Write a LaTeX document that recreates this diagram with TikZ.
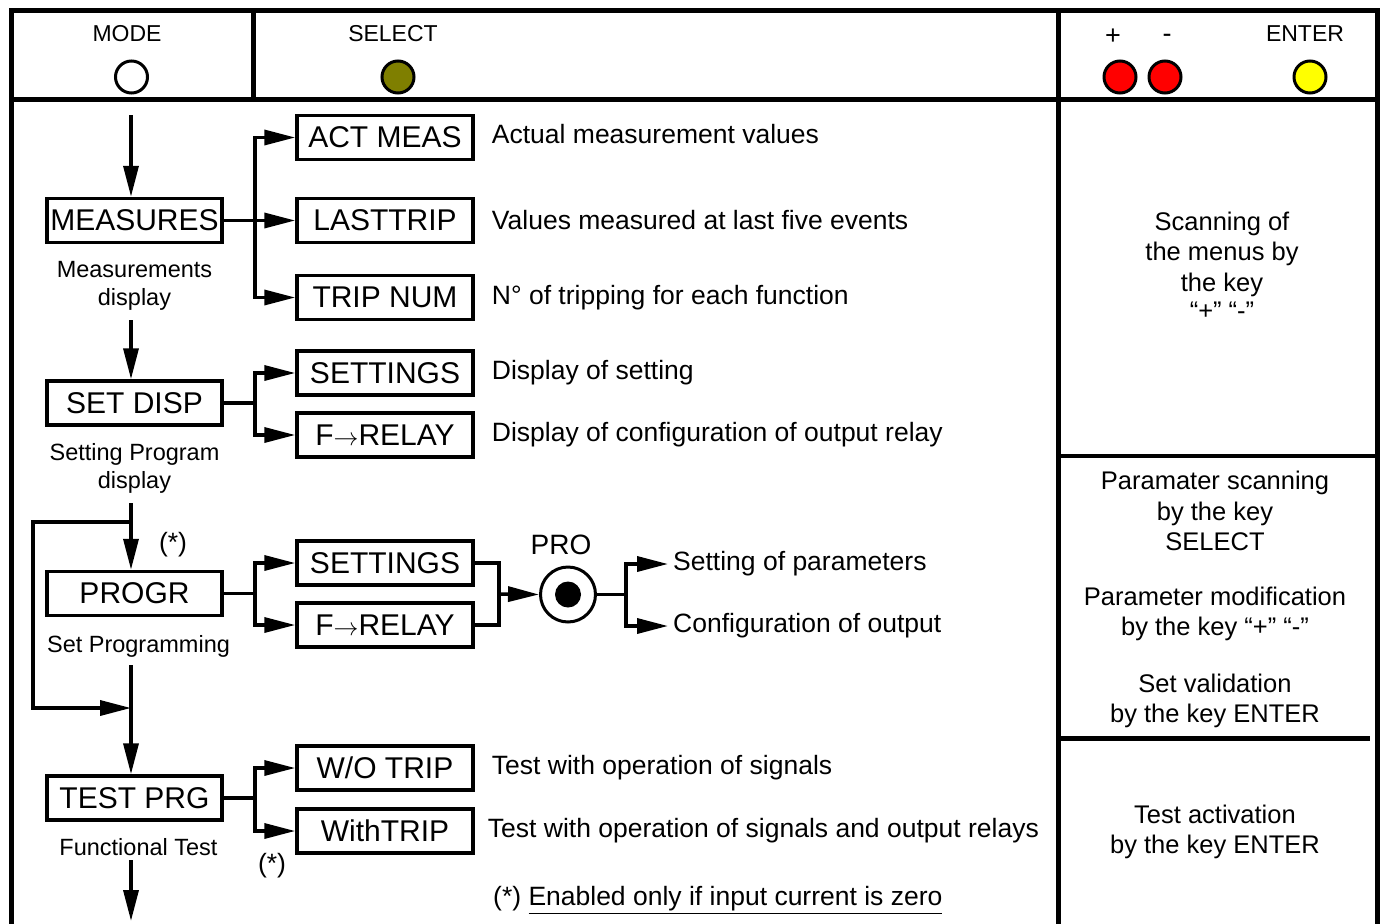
\documentclass[tikz,border=0pt]{standalone}
\usepackage{fontspec}
\setmainfont{Liberation Sans}
\usetikzlibrary{positioning, calc, arrows.meta}
\tikzset{
    Line/.style = {line width=3.5pt},
    Arrow/.style = {Line, -{Triangle[length=31pt, width=15pt]}},
    Frame/.style = {line width=5pt},
    Box/.style = {draw, line width=3.5pt, minimum width=175pt,
        minimum height=44pt, inner sep=0pt,
        font=\fontsize{30}{30}\selectfont},
    SubBox/.style = {Box, minimum width=176pt},
    Head/.style = {inner sep=0pt, font=\fontsize{23}{23}\selectfont},
    Desc/.style = {anchor=west, inner sep=0pt,
        font=\fontsize{26.5}{30}\selectfont},
    Small/.style = {align=center, inner sep=0pt,
        font=\fontsize{23.5}{28}\selectfont},
    Note/.style = {align=center, inner sep=0pt,
        font=\fontsize{25.5}{30.5}\selectfont},
    Key/.style = {circle, draw, line width=3pt, minimum size=32pt, inner sep=0pt}
}
\definecolor{selFill}{HTML}{7F7F00}
\definecolor{pmFill}{HTML}{FF0000}
\definecolor{entFill}{HTML}{FFFF00}

\begin{document}
\begin{tikzpicture}[x=1pt, y=-1pt]
    \useasboundingbox (0,0) rectangle (1382,924);
    % frame
    \draw[Frame] (11.5,930) -- (11.5,10) -- (1377.5,10) -- (1377.5,930);
    \draw[Frame] (11.5,99.5) -- (1377.5,99.5);
    \draw[Frame] (253,10) -- (253,99.5);
    \draw[Frame] (1058.5,10) -- (1058.5,930);
    \draw[line width=4pt] (1058.5,456) -- (1377.5,456);
    \draw[Frame] (1058.5,738) -- (1370,738);

    % keys
    \node[Head] (ModeTxt) at (127,34) {MODE};
    \node[Key, fill=white] (ModeKey) at (131.5,77) {};
    \node[Head] (SelTxt) at (393,34) {SELECT};
    \node[Key, fill=selFill] (SelKey) at (398,77) {};
    \node[Head, font=\fontsize{27}{27}\selectfont] (PlusTxt) at (1113,37) {+};
    \node[Head, font=\fontsize{27}{27}\selectfont] (MinusTxt) at (1167,38) {-};
    \node[Head] (EntTxt) at (1305,34) {ENTER};
    \node[Key, fill=pmFill] (PlusKey) at (1120,77) {};
    \node[Key, fill=pmFill] (MinusKey) at (1165,77) {};
    \node[Key, fill=entFill] (EntKey) at (1310,77) {};

    % menus
    \node[Box] (Meas) at (134.5,220.5) {MEASURES};
    \node[Small, below=17pt of Meas] (MeasLbl) {Measurements\\display};
    \node[Box] (SetDisp) at (134.5,403) {SET DISP};
    \node[Small, below=17pt of SetDisp] (SetDispLbl) {Setting Program\\display};
    \node[Box] (Progr) at (134.5,593.5) {PROGR};
    \node[Small, below=18pt of Progr, xshift=4pt] (ProgrLbl) {Set Programming};
    \node[Box] (TestPrg) at (134.5,798) {TEST PRG};
    \node[Small, below=17pt of TestPrg, xshift=4pt] (TestLbl) {Functional Test};

    % sub menus
    \node[SubBox] (ActMeas) at (385,137.5) {ACT MEAS};
    \node[SubBox] (LastTrip) at (385,220.5) {LASTTRIP};
    \node[SubBox] (TripNum) at (385,297.5) {TRIP NUM};
    \node[SubBox] (SetA) at (385,373) {SETTINGS};
    \node[SubBox] (RelA) at (385,435) {F$\rightarrow$RELAY};
    \node[SubBox] (SetB) at (385,563) {SETTINGS};
    \node[SubBox] (RelB) at (385,625) {F$\rightarrow$RELAY};
    \node[SubBox] (WoTrip) at (385,768) {W/O TRIP};
    \node[SubBox] (WithTrip) at (385,831) {WithTRIP};

    \node[Desc, right=17pt of ActMeas, yshift=3pt] (ActMeasTxt) {Actual measurement values};
    \node[Desc, right=17pt of LastTrip] (LastTripTxt) {Values measured at last five events};
    \node[Desc, right=17pt of TripNum] (TripNumTxt) {N° of tripping for each function};
    \node[Desc, right=17pt of SetA] (SetATxt) {Display of setting};
    \node[Desc, right=17pt of RelA] (RelATxt) {Display of configuration of output relay};
    \node[Desc, right=17pt of WoTrip] (WoTripTxt) {Test with operation of signals};
    \node[Desc, right=13pt of WithTrip] (WithTripTxt) {Test with operation of signals and output relays};

    \node[Desc, anchor=center] (StarA) at (173,545) {(*)};
    \node[Desc, anchor=center] (StarB) at (272,866) {(*)};
    \node[Desc] (Foot) at (493,900) {(*) \underline{Enabled only if input current is zero}};

    % PRO key
    \node[circle, draw, line width=3pt, minimum size=55pt, inner sep=0pt] (Pro) at (568,594.5) {};
    \fill (Pro.center) circle[radius=13pt];
    \node[inner sep=0pt, font=\fontsize{28}{28}\selectfont] (ProTxt) at (561,545) {PRO};
    \node[Desc] (SetPar) at (673,564) {Setting of parameters};
    \node[Desc] (ConfOut) at (673,626) {Configuration of output};

    % main flow
    \coordinate (Top) at (131,115);
    \coordinate (MeasOut) at (131,320);
    \coordinate (SetOut) at (131,503);
    \coordinate (Loop) at (131,522);
    \coordinate (LoopCorner) at (33,708);
    \coordinate (Join) at (131,708);
    \coordinate (ProgrOut) at (131,665);
    \coordinate (TestOut) at (131,860);
    \coordinate (Bottom) at (131,921);
    \draw[Arrow] (Top) -- (Top |- Meas.north);
    \draw[Arrow] (MeasOut) -- (MeasOut |- SetDisp.north);
    \draw[Arrow] (SetOut) -- (SetOut |- Progr.north);
    \draw[Arrow] (Loop) -| (LoopCorner) -- (Join);
    \draw[Arrow] (ProgrOut) -- (ProgrOut |- TestPrg.north);
    \draw[Arrow] (TestOut) -- (Bottom);

    % branches
    \draw[Arrow] (Meas.east) -- (LastTrip.west);
    \draw[Arrow] ($(Meas.east)+(31,0)$) |- (ActMeas.west);
    \draw[Arrow] ($(Meas.east)+(31,0)$) |- (TripNum.west);
    \draw[Line] (SetDisp.east) -- ++(31,0) coordinate (SetBus);
    \draw[Arrow] (SetBus) |- (SetA.west);
    \draw[Arrow] (SetBus) |- (RelA.west);
    \draw[Line] (Progr.east) -- ++(31,0) coordinate (ProgrBus);
    \draw[Arrow] (ProgrBus) |- (SetB.west);
    \draw[Arrow] (ProgrBus) |- (RelB.west);
    \draw[Line] (TestPrg.east) -- ++(31,0) coordinate (TestBus);
    \draw[Arrow] (TestBus) |- (WoTrip.west);
    \draw[Arrow] (TestBus) |- (WithTrip.west);

    % to and from PRO
    \draw[Line] (SetB.east) -- ++(24,0) |- (RelB.east);
    \draw[Arrow] ($(SetB.east)!0.5!(RelB.east)+(24,0)$) -- (Pro.west);
    \draw[Line] (Pro.east) -- ++(29,0) coordinate (OutBus);
    \draw[Arrow, shorten >=5pt] (OutBus) |- (SetPar.west);
    \draw[Arrow, shorten >=5pt] (OutBus) |- (ConfOut.west);

    % key notes
    \node[Note] (ScanTxt) at (1222,266) {Scanning of\\the menus by\\the key\\[-2pt]“+” “-”};
    \node[Note] (ParTxt) at (1215,511) {Paramater scanning\\by the key\\SELECT};
    \node[Note] (ModTxt) at (1215,614) {Parameter modification\\by the key “+” “-”};
    \node[Note] (ValTxt) at (1215,701) {Set validation\\by the key ENTER};
    \node[Note] (TestTxt) at (1215,832) {Test activation\\by the key ENTER};
\end{tikzpicture}
\end{document}
